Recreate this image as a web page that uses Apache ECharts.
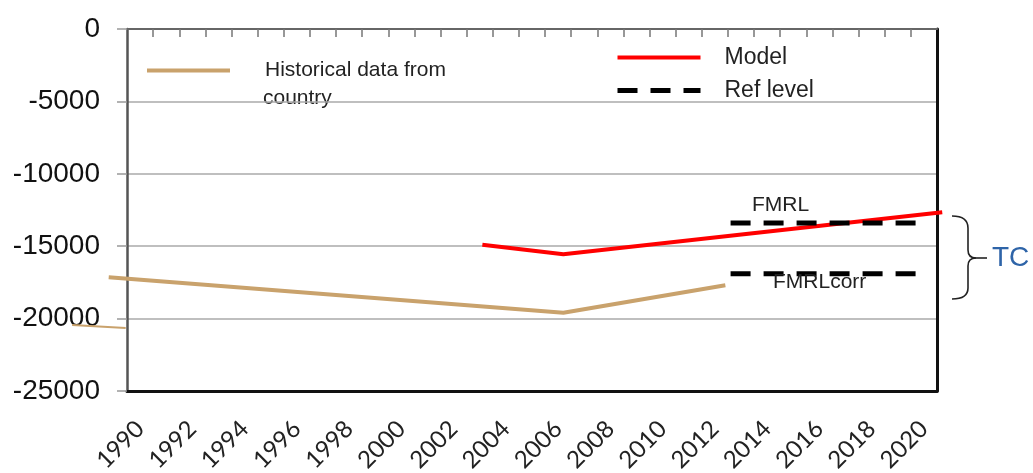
<!DOCTYPE html>
<html>
<head>
<meta charset="utf-8">
<script src="https://cdn.jsdelivr.net/npm/echarts@6/dist/echarts.min.js"></script>
<style>
  html, body { margin: 0; padding: 0; background: #fff; }
  #main { width: 1033px; height: 473px; }
</style>
</head>
<body>
<div id="main"></div>
<script>
// values
var xTickLabels = [1990, 1992, 1994, 1996, 1998, 2000, 2002, 2004, 2006, 2008, 2010, 2012, 2014, 2016, 2018, 2020];
var yearBounds = [1990.5, 1991.5, 1992.5, 1993.5, 1994.5, 1995.5, 1996.5, 1997.5, 1998.5, 1999.5,
    2000.5, 2001.5, 2002.5, 2003.5, 2004.5, 2005.5, 2006.5, 2007.5, 2008.5, 2009.5,
    2010.5, 2011.5, 2012.5, 2013.5, 2014.5, 2015.5, 2016.5, 2017.5, 2018.5, 2019.5];

var histYears = [1988.8, 2006.2, 2012.4];
var histValues = [-17150, -19600, -17700];
var stubYears = [1987.4, 1989.45];
var stubValues = [-20450, -20650];
var modelYears = [2003.1, 2006.2, 2020.7];
var modelValues = [-14900, -15550, -12650];
var refYears = [2012.6, 2019.9];
var fmrlValues = [-13400, -13400];
var fmrlCorrValues = [-16900, -16900];

var histName = 'Historical data from country';
var brown = '#C9A26C';
var refDash = [20, 13];

// plot box
var W = 1033, gLeft = 127, gRight = 96, gTop = 29, gBottom = 82;
var xMin = 1989.5, xMax = 2020.5;
// a second, full-width grid with the same scale, so lines can run past the frame
var pxPerYear = (W - gLeft - gRight) / (xMax - xMin);
var wideMin = xMin - gLeft / pxPerYear;
var wideMax = wideMin + W / pxPerYear;

function pairs(xs, ys) {
    var out = [];
    for (var i = 0; i < xs.length; i++) {
        out.push([xs[i], ys[i]]);
    }
    return out;
}

// curly brace next to the ref levels
var braceStyle = { stroke: '#222', lineWidth: 1.6, fill: null };
function braceCurve(x1, y1, cx, cy, x2, y2) {
    return { type: 'bezierCurve', shape: { x1: x1, y1: y1, cpx1: cx, cpy1: cy, x2: x2, y2: y2 }, style: braceStyle };
}
function braceLine(x1, y1, x2, y2) {
    return { type: 'line', shape: { x1: x1, y1: y1, x2: x2, y2: y2 }, style: braceStyle };
}

var myChart = echarts.init(document.getElementById('main'));

var option = {
    animation: false,
    grid: [
        { left: gLeft, right: gRight, top: gTop, bottom: gBottom, outerBoundsMode: 'none', containLabel: false },
        { left: 0, right: 0, top: gTop, bottom: gBottom, outerBoundsMode: 'none', containLabel: false }
    ],
    legend: [
        {
            data: [{ name: histName, lineStyle: { width: 4 } }],
            left: 145,
            top: 60,
            padding: 0,
            itemWidth: 83,
            itemHeight: 14,
            formatter: function (name) {
                return 'Historical data from';
            },
            itemStyle: { color: 'rgba(0,0,0,0)', borderWidth: 0 },
            textStyle: {
                fontFamily: 'Liberation Sans',
                fontSize: 21,
                color: '#222',
                padding: [4, 0, 0, 30]
            }
        },
        {
            data: [
                { name: 'Model', lineStyle: { width: 4 } },
                { name: 'Ref level', lineStyle: { width: 5, type: refDash } }
            ],
            orient: 'vertical',
            left: 615,
            top: 46,
            padding: 0,
            itemWidth: 83,
            itemHeight: 14,
            itemGap: 10,
            itemStyle: { color: 'rgba(0,0,0,0)', borderWidth: 0 },
            textStyle: {
                fontFamily: 'Liberation Sans',
                fontSize: 23,
                color: '#222',
                padding: [0, 0, 12, 19]
            }
        }
    ],
    xAxis: [
        {
            type: 'value',
            gridIndex: 0,
            position: 'bottom',
            min: xMin,
            max: xMax,
            axisLine: { show: true, onZero: false, lineStyle: { color: '#111', width: 3 } },
            axisTick: { show: false },
            splitLine: { show: false },
            axisLabel: {
                customValues: xTickLabels,
                formatter: function (v) { return String(v); },
                rotate: 45,
                margin: 34,
                fontFamily: 'Lato',
                fontSize: 24,
                color: '#222'
            }
        },
        {
            type: 'value',
            gridIndex: 0,
            position: 'top',
            min: xMin,
            max: xMax,
            axisLine: { show: true, onZero: false, lineStyle: { color: '#666', width: 2 } },
            axisTick: {
                show: true,
                inside: true,
                length: 8,
                customValues: yearBounds,
                lineStyle: { color: '#777', width: 1.5 }
            },
            axisLabel: { show: false },
            splitLine: { show: false }
        },
        {
            type: 'value',
            gridIndex: 1,
            show: false,
            min: wideMin,
            max: wideMax
        }
    ],
    yAxis: [
        {
            type: 'value',
            gridIndex: 0,
            min: -25000,
            max: 0,
            interval: 5000,
            axisLine: { show: true, onZero: false, lineStyle: { color: '#555', width: 2.5 } },
            axisTick: { show: true, length: 10, lineStyle: { color: '#999', width: 1.5 } },
            axisLabel: {
                margin: 27,
                formatter: function (v) { return String(v); },
                fontFamily: 'Liberation Sans',
                fontSize: 28,
                color: '#111'
            },
            splitLine: { show: true, lineStyle: { color: '#aaa', width: 1.5 } }
        },
        {
            type: 'value',
            gridIndex: 0,
            position: 'right',
            min: -25000,
            max: 0,
            axisLine: { show: true, onZero: false, lineStyle: { color: '#111', width: 3 } },
            axisTick: { show: false },
            axisLabel: { show: false },
            splitLine: { show: false }
        },
        {
            type: 'value',
            gridIndex: 1,
            show: false,
            min: -25000,
            max: 0
        }
    ],
    series: [
        {
            name: histName,
            type: 'line',
            xAxisIndex: 2,
            yAxisIndex: 2,
            symbol: 'none',
            data: pairs(histYears, histValues),
            lineStyle: { color: brown, width: 4 },
            itemStyle: { color: brown }
        },
        {
            name: histName,
            type: 'line',
            xAxisIndex: 2,
            yAxisIndex: 2,
            symbol: 'none',
            data: pairs(stubYears, stubValues),
            lineStyle: { color: brown, width: 2 },
            itemStyle: { color: brown }
        },
        {
            name: 'Model',
            type: 'line',
            xAxisIndex: 2,
            yAxisIndex: 2,
            symbol: 'none',
            data: pairs(modelYears, modelValues),
            lineStyle: { color: '#ff0000', width: 4 },
            itemStyle: { color: '#ff0000' }
        },
        {
            name: 'Ref level',
            type: 'line',
            symbol: 'none',
            data: pairs(refYears, fmrlValues),
            lineStyle: { color: '#000', width: 5, type: refDash },
            itemStyle: { color: '#000' }
        },
        {
            name: 'Ref level',
            type: 'line',
            symbol: 'none',
            data: pairs(refYears, fmrlCorrValues),
            lineStyle: { color: '#000', width: 5, type: refDash },
            itemStyle: { color: '#000' }
        }
    ],
    graphic: [
        {
            type: 'text',
            left: 263,
            top: 88,
            style: { text: 'country', fontFamily: 'Liberation Sans', fontSize: 21, fill: '#222' }
        },
        {
            type: 'text',
            left: 752,
            top: 195,
            style: { text: 'FMRL', fontFamily: 'Liberation Sans', fontSize: 21, fill: '#222' }
        },
        {
            type: 'text',
            left: 773,
            top: 272,
            z: 10,
            style: { text: 'FMRLcorr', fontFamily: 'Liberation Sans', fontSize: 21, fill: '#222' }
        },
        braceCurve(952, 216, 968, 216, 968, 228),
        braceLine(968, 228, 968, 250),
        braceCurve(968, 250, 968, 258, 976, 258),
        braceLine(976, 258, 987, 258),
        braceCurve(976, 258, 968, 258, 968, 266),
        braceLine(968, 266, 968, 288),
        braceCurve(968, 288, 968, 299, 952, 299),
        {
            type: 'text',
            left: 992,
            top: 244,
            style: { text: 'TC', fontFamily: 'Liberation Sans', fontSize: 28, fill: '#2E64A8' }
        }
    ]
};

myChart.setOption(option);
</script>
</body>
</html>
